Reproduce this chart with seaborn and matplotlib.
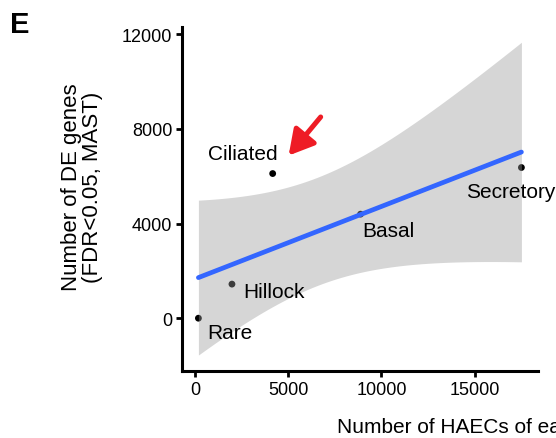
import numpy as np
import pandas as pd
import matplotlib
matplotlib.use("Agg")
import matplotlib.pyplot as plt
import seaborn as sns

# ---- data ----
cell_types = ["Rare", "Hillock", "Ciliated", "Basal", "Secretory"]
n_cells = [180, 1980, 4165, 8880, 17510]
n_de_genes = [0, 1440, 6110, 4395, 6365]
x_ticks = [0, 5000, 10000, 15000]
y_ticks = [0, 4000, 8000, 12000]
x_title = "Number of HAECs of each cell type"
y_title = "Number of DE genes\n(FDR<0.05, MAST)"
panel_label = "E"
t_quantile = 2.353363  # t(0.95, df=3) -> 90% band
arrow_tail = (6740, 8500)
arrow_head = (5020, 6870)

# label offsets in pixels (dx, dy), ha
label_offsets = {
    "Rare": (9, -14, "left"),
    "Hillock": (11, -7, "left"),
    "Ciliated": (-30, 20, "center"),
    "Basal": (2, -16, "left"),
    "Secretory": (-11, -24, "center"),
}

df = pd.DataFrame({"type": cell_types, "x": n_cells, "y": n_de_genes})

sns.set_theme(style="ticks")
plt.rcParams["font.family"] = ["Liberation Sans", "DejaVu Sans"]
plt.rcParams["text.color"] = "black"
plt.rcParams["axes.labelcolor"] = "black"

fig = plt.figure(figsize=(5.56, 4.39), dpi=100)
W, H = 556, 439
ax = fig.add_axes([182 / W, 1 - 372 / H, (538 - 182) / W, (372 - 28) / H])

# points first (ribbon drawn over them, like ggplot)
sns.scatterplot(data=df, x="x", y="y", color="black", s=24, edgecolor="none", ax=ax, zorder=2)

# linear fit with analytic confidence band
x = df["x"].to_numpy(float)
y = df["y"].to_numpy(float)
n = len(x)
slope, intercept = np.polyfit(x, y, 1)
resid = y - (intercept + slope * x)
s = np.sqrt(np.sum(resid ** 2) / (n - 2))
xs = np.linspace(x.min(), x.max(), 80)
pred = intercept + slope * xs
se = s * np.sqrt(1 / n + (xs - x.mean()) ** 2 / np.sum((x - x.mean()) ** 2))
ax.fill_between(xs, pred - t_quantile * se, pred + t_quantile * se,
                color="#999999", alpha=0.4, linewidth=0, zorder=3)
sns.lineplot(x=xs, y=pred, color="#3366FF", linewidth=3.4, ax=ax, zorder=4)

# labels
for _, r in df.iterrows():
    dx, dy, ha = label_offsets[r["type"]]
    ax.annotate(r["type"], (r["x"], r["y"]), xytext=(dx, dy), textcoords="offset pixels",
                ha=ha, va="center", fontsize=15, color="black", zorder=5)

ax.annotate("", xy=arrow_head, xytext=arrow_tail,
            arrowprops=dict(arrowstyle="-|>,head_length=0.75,head_width=0.42",
                            mutation_scale=20, color="#EE1C25", lw=3.6,
                            shrinkA=0, shrinkB=0))

ax.set_xlim(-700, 18400)
ax.set_ylim(-2230, 12300)
ax.set_xticks(x_ticks)
ax.set_yticks(y_ticks)
ax.set_xticklabels([str(v) for v in x_ticks])
ax.set_yticklabels([str(v) for v in y_ticks])
ax.set_xlabel("")
ax.set_ylabel("")
ax.tick_params(axis="both", labelsize=13, length=4, width=2, pad=3, colors="black")
for sp in ["top", "right"]:
    ax.spines[sp].set_visible(False)
for sp in ["left", "bottom"]:
    ax.spines[sp].set_linewidth(2.2)
    ax.spines[sp].set_color("black")
ax.grid(False)

fig.text(337 / W, 6 / H, x_title, ha="left", va="baseline", fontsize=15, color="black")
fig.text(82 / W, 1 - 187 / H, y_title, ha="center", va="center", rotation=90,
         fontsize=16, linespacing=0.95, multialignment="center", color="black")
fig.text(10 / W, 1 - 33 / H, panel_label, ha="left", va="baseline", fontsize=21,
         fontweight="bold", color="black")

fig.savefig("out.png", dpi=100)
